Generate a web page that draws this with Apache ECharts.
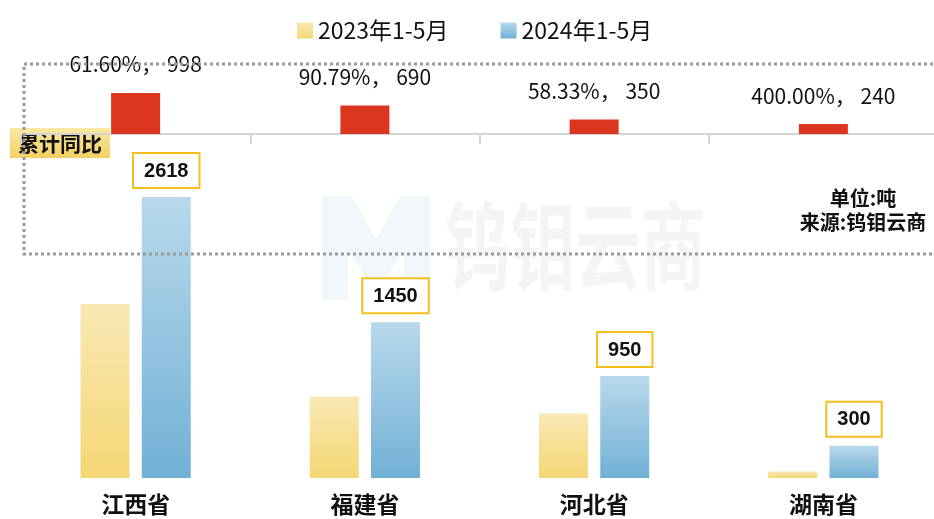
<!DOCTYPE html>
<html>
<head>
<meta charset="utf-8">
<script src="https://cdn.jsdelivr.net/npm/echarts@6/dist/echarts.min.js"></script>
<style>
  html, body { margin: 0; padding: 0; background: #fff; }
  #chart { width: 934px; height: 519px; }
</style>
</head>
<body>
<div id="chart"></div>
<script>
// 数据
const provinces = ['江西省', '福建省', '河北省', '湖南省']
const seriesNames = ['2023年1-5月', '2024年1-5月']
const values2023 = [1620, 760, 600, 60]
const values2024 = [2618, 1450, 950, 300]
const increments = [998, 690, 350, 240]
const yoyLabels = ['61.60%', '90.79%', '58.33%', '400.00%']

const cjk = '"Noto Sans CJK SC", "Noto Sans", sans-serif'

const chart = echarts.init(document.getElementById('chart'))

const yellowGrad = new echarts.graphic.LinearGradient(0, 0, 0, 1, [
  { offset: 0, color: '#f9e8b4' },
  { offset: 1, color: '#f4d774' }
])
const blueGrad = new echarts.graphic.LinearGradient(0, 0, 0, 1, [
  { offset: 0, color: '#b8d9eb' },
  { offset: 1, color: '#71b1d5' }
])

const option = {
  backgroundColor: '#fff',
  animation: false,
  textStyle: { fontFamily: cjk },
  legend: {
    data: seriesNames,
    top: 14,
    left: 292,
    icon: 'rect',
    itemWidth: 16,
    itemHeight: 16,
    itemGap: 52,
    textStyle: { fontSize: 23, color: '#111', fontFamily: cjk }
  },
  grid: [
    { left: 21, width: 917, top: 64, height: 70, outerBoundsMode: 'none', containLabel: false },
    { left: 21, width: 917, top: 156, bottom: 41, outerBoundsMode: 'none', containLabel: false }
  ],
  xAxis: [
    {
      type: 'category',
      gridIndex: 0,
      data: provinces,
      axisLine: { lineStyle: { color: '#d4d4d4', width: 2 } },
      axisTick: { show: true, length: 10, lineStyle: { color: '#d4d4d4', width: 2 } },
      axisLabel: { show: false }
    },
    {
      type: 'category',
      gridIndex: 1,
      data: provinces,
      axisLine: { show: false },
      axisTick: { show: false },
      axisLabel: {
        margin: 15,
        fontSize: 23,
        fontWeight: 'bold',
        color: '#111',
        fontFamily: cjk
      }
    }
  ],
  yAxis: [
    { type: 'value', gridIndex: 0, min: 0, max: 1700, show: false },
    { type: 'value', gridIndex: 1, min: 0, max: 3000, show: false }
  ],
  series: [
    {
      name: '累计同比',
      type: 'bar',
      xAxisIndex: 0,
      yAxisIndex: 0,
      data: increments,
      barWidth: 49,
      itemStyle: { color: '#dc3520' },
      label: {
        show: true,
        position: 'top',
        distance: 18,
        fontSize: 21,
        color: '#111',
        fontFamily: cjk,
        formatter: p => yoyLabels[p.dataIndex] + '， ' + p.value
      }
    },
    {
      name: seriesNames[0],
      type: 'bar',
      xAxisIndex: 1,
      yAxisIndex: 1,
      data: values2023,
      barWidth: 49,
      barGap: '25%',
      itemStyle: { color: yellowGrad }
    },
    {
      name: seriesNames[1],
      type: 'bar',
      xAxisIndex: 1,
      yAxisIndex: 1,
      data: values2024,
      barWidth: 49,
      barGap: '25%',
      itemStyle: { color: blueGrad },
      label: {
        show: true,
        position: 'top',
        distance: 10,
        fontSize: 20,
        fontWeight: 'bold',
        color: '#111',
        fontFamily: '"Liberation Sans", Arial, sans-serif',
        backgroundColor: '#fff',
        borderColor: '#f3bf1c',
        borderWidth: 2,
        padding: [7, 10, 6, 10]
      }
    }
  ],
  graphic: [
    // 水印
    {
      type: 'polygon',
      z: -10,
      shape: { points: [[322, 300], [322, 196], [352, 196], [376, 240], [400, 196], [430, 196], [430, 300], [404, 300], [404, 250], [376, 292], [348, 250], [348, 300]] },
      style: { fill: '#f0f6fa' }
    },
    {
      type: 'text',
      z: -10,
      left: 445,
      top: 198,
      scaleX: 0.68,
      style: { text: '钨钼云商', fontSize: 96, fontWeight: 'bold', fill: '#f4f4f4', fontFamily: cjk }
    },
    // 虚线框
    {
      type: 'rect',
      z: 100,
      shape: { x: 24, y: 64, width: 920, height: 190 },
      style: { fill: 'none', stroke: '#9a9a9a', lineWidth: 3, lineDash: [3, 3] }
    },
    // 累计同比标签
    {
      type: 'group',
      z: 110,
      left: 10,
      top: 128,
      children: [
        {
          type: 'rect',
          shape: { x: 0, y: 0, width: 100, height: 30 },
          style: {
            fill: new echarts.graphic.LinearGradient(0, 0, 0, 1, [
              { offset: 0, color: '#fbe8a2' },
              { offset: 1, color: '#f2d062' }
            ])
          }
        },
        {
          type: 'text',
          x: 50,
          y: 15,
          style: { text: '累计同比', fontSize: 21, fontWeight: 'bold', fill: '#111', align: 'center', verticalAlign: 'middle', fontFamily: cjk }
        }
      ]
    },
    // 单位、来源
    {
      type: 'text',
      z: 110,
      x: 863,
      y: 198,
      style: { text: '单位:吨', fontSize: 20, fontWeight: 'bold', fill: '#111', align: 'center', verticalAlign: 'middle', fontFamily: cjk }
    },
    {
      type: 'text',
      z: 110,
      x: 863,
      y: 222,
      style: { text: '来源:钨钼云商', fontSize: 20, fontWeight: 'bold', fill: '#111', align: 'center', verticalAlign: 'middle', fontFamily: cjk }
    }
  ]
}

chart.setOption(option)
window.addEventListener('resize', () => chart.resize())
</script>
</body>
</html>
